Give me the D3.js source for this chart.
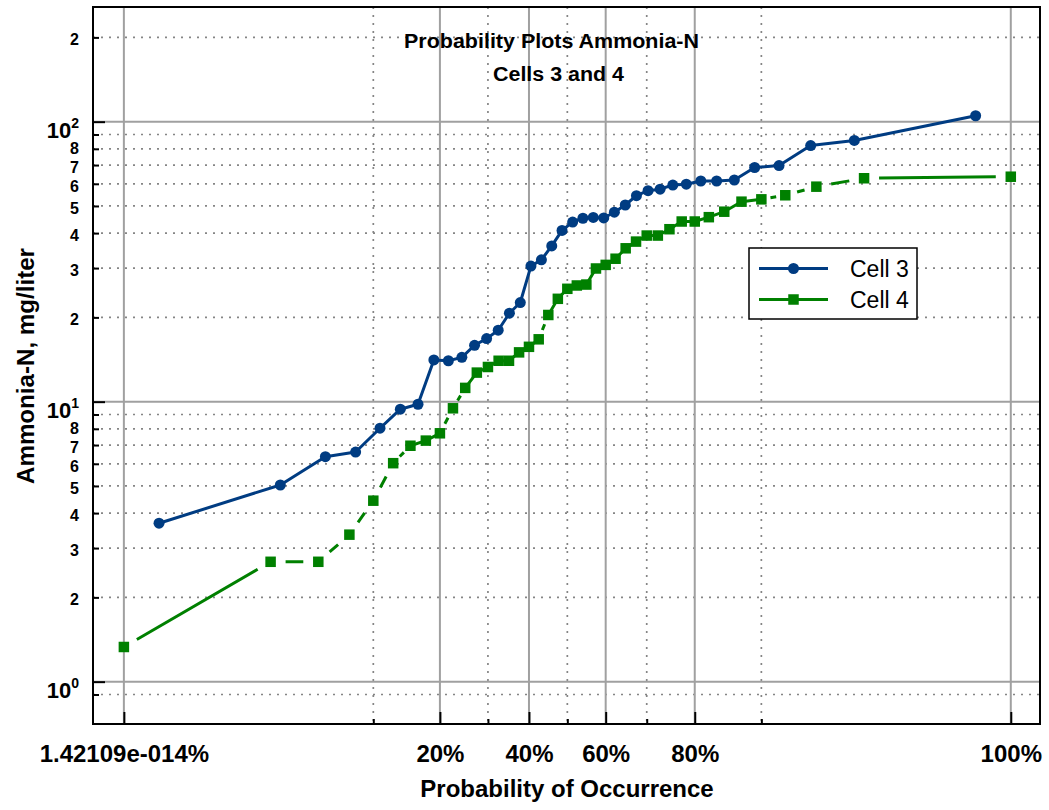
<!DOCTYPE html>
<html><head><meta charset="utf-8">
<script src="https://cdn.jsdelivr.net/npm/d3@7"></script>
<style>body{margin:0;background:#fff} svg{display:block}</style>
</head><body>
<svg id="chart" width="1049" height="810"></svg>
<script>
// ---- data ----
const seriesNames = ["Cell 3", "Cell 4"];
const cell3Prob = [0.35, 2.9, 5.5, 8.1, 10.8, 13.5, 16.2, 18.9, 21.6, 24.3, 27.0, 29.7, 32.4, 35.1, 37.8, 40.5, 43.2, 45.9, 48.6, 51.4, 54.1, 56.8, 59.5, 62.2, 64.9, 67.6, 70.3, 73.0, 75.7, 78.4, 81.1, 83.8, 86.5, 89.2, 91.9, 94.6, 97.1, 99.65];
const cell3Value = [3.68, 5.04, 6.36, 6.61, 8.04, 9.40, 9.79, 14.1, 14.0, 14.4, 15.9, 16.8, 18.0, 20.7, 22.6, 30.5, 32.1, 36.0, 40.9, 43.8, 45.2, 45.5, 45.3, 47.5, 50.4, 54.4, 56.7, 57.4, 59.4, 59.8, 61.4, 61.4, 61.9, 68.6, 69.7, 82.2, 85.7, 105];
const cell4Prob = [0, 2.5, 5, 7.5, 10, 12.5, 15, 17.5, 20, 22.5, 25, 27.5, 30, 32.5, 35, 37.5, 40, 42.5, 45, 47.5, 50, 52.5, 55, 57.5, 60, 62.5, 65, 67.5, 70, 72.5, 75, 77.5, 80, 82.5, 85, 87.5, 90, 92.5, 95, 97.5, 100];
const cell4Value = [1.33, 2.68, 2.68, 3.35, 4.43, 6.03, 6.96, 7.26, 7.71, 9.47, 11.2, 12.7, 13.3, 14.0, 14.0, 15.0, 15.7, 16.7, 20.4, 23.3, 25.3, 26.0, 26.2, 29.9, 30.8, 32.4, 35.3, 37.3, 39.2, 39.2, 41.3, 44.0, 44.0, 45.6, 47.7, 51.8, 52.8, 54.6, 58.6, 62.8, 63.6];

const xMajorTicks = [0, 20, 40, 60, 80, 100];
const xMajorLabels = ["1.42109e-014%", "20%", "40%", "60%", "80%", "100%"];
const xMinorTicks = [10, 30, 50, 70, 90];
const yMajorTicks = [1, 10, 100];
const yMajorExp = ["0", "1", "2"];
const yMinorTicks = [0.9, 2, 3, 4, 5, 6, 7, 8, 9, 20, 30, 40, 50, 60, 70, 80, 90, 200];
const yMinorLabels = ["", "2", "3", "4", "5", "6", "7", "8", "", "2", "3", "4", "5", "6", "7", "8", "", "2"];
const titleLines = ["Probability Plots Ammonia-N", "Cells 3 and 4"];
const xTitle = "Probability of Occurrence";
const yTitle = "Ammonia-N, mg/liter";

// ---- layout / style ----
const L = 93, R = 1040, T = 7, B = 724;
const C3 = "#003C82", C4 = "#008000";
const FONT = "'Liberation Sans', Arial, Helvetica, sans-serif";

function probit(p) {
  const a=[-3.969683028665376e+01,2.209460984245205e+02,-2.759285104469687e+02,1.383577518672690e+02,-3.066479806614716e+01,2.506628277459239e+00];
  const b=[-5.447609879822406e+01,1.615858368580409e+02,-1.556989798598866e+02,6.680131188771972e+01,-1.328068155288572e+01];
  const c=[-7.784894002430293e-03,-3.223964580411365e-01,-2.400758277161838e+00,-2.549732539343734e+00,4.374664141464968e+00,2.938163982698783e+00];
  const d=[7.784695709041462e-03,3.224671290700398e-01,2.445134137142996e+00,3.754408661907416e+00];
  const pl = 0.02425, ph = 1 - pl; let q, r;
  if (p < pl) { q = Math.sqrt(-2*Math.log(p)); return (((((c[0]*q+c[1])*q+c[2])*q+c[3])*q+c[4])*q+c[5])/((((d[0]*q+d[1])*q+d[2])*q+d[3])*q+1); }
  if (p <= ph) { q = p - 0.5; r = q*q; return (((((a[0]*r+a[1])*r+a[2])*r+a[3])*r+a[4])*r+a[5])*q/(((((b[0]*r+b[1])*r+b[2])*r+b[3])*r+b[4])*r+1); }
  q = Math.sqrt(-2*Math.log(1-p)); return -(((((c[0]*q+c[1])*q+c[2])*q+c[3])*q+c[4])*q+c[5])/((((d[0]*q+d[1])*q+d[2])*q+d[3])*q+1);
}
const pMin = 0.0017, pMax = 0.9983;
const toZ = pct => probit(Math.min(pMax, Math.max(pMin, pct / 100)));

const zScale = d3.scaleLinear().domain([-3.133, 3.122]).range([L, R]);
const yScale = d3.scaleLog().domain([0.706, 256.8]).range([B, T]);
const X = pct => zScale(toZ(pct));

const svg = d3.select("#chart");
svg.append("rect").attr("width", 1049).attr("height", 810).attr("fill", "#fff");

// ---- gridlines ----
const grid = svg.append("g");
yMinorTicks.forEach(v => grid.append("line").attr("x1", L).attr("x2", R).attr("y1", yScale(v)).attr("y2", yScale(v))
  .attr("stroke", "#858585").attr("stroke-width", 1.7).attr("stroke-dasharray", "2 6"));
xMinorTicks.forEach(p => grid.append("line").attr("y1", T).attr("y2", B).attr("x1", X(p)).attr("x2", X(p))
  .attr("stroke", "#858585").attr("stroke-width", 1.7).attr("stroke-dasharray", "2 6"));
yMajorTicks.forEach(v => grid.append("line").attr("x1", L).attr("x2", R).attr("y1", yScale(v)).attr("y2", yScale(v))
  .attr("stroke", "#a0a0a0").attr("stroke-width", 2));
xMajorTicks.forEach(p => grid.append("line").attr("y1", T).attr("y2", B).attr("x1", X(p)).attr("x2", X(p))
  .attr("stroke", "#a0a0a0").attr("stroke-width", 2));

// ---- axes (ticks inward) ----
const xAxisMajor = d3.axisBottom(zScale).tickValues(xMajorTicks.map(toZ))
  .tickFormat((d, i) => xMajorLabels[i]).tickSizeInner(-12).tickSizeOuter(0).tickPadding(21);
const gx = svg.append("g").attr("transform", `translate(0,${B})`).call(xAxisMajor);
const xAxisMinor = d3.axisBottom(zScale).tickValues(xMinorTicks.map(toZ)).tickFormat("").tickSizeInner(-5).tickSizeOuter(0);
const gx2 = svg.append("g").attr("transform", `translate(0,${B})`).call(xAxisMinor);
[gx, gx2].forEach(g => { g.select(".domain").remove(); g.selectAll(".tick line").attr("stroke", "#000").attr("stroke-width", 2); });
gx.selectAll(".tick text").attr("font-family", FONT).attr("font-size", 24).attr("font-weight", "bold").attr("fill", "#000");

const yAxisMajor = d3.axisLeft(yScale).tickValues(yMajorTicks).tickFormat("").tickSizeInner(-12).tickSizeOuter(0);
const gy = svg.append("g").attr("transform", `translate(${L},0)`).call(yAxisMajor);
const yAxisMinor = d3.axisLeft(yScale).tickValues(yMinorTicks).tickFormat("").tickSizeInner(-6).tickSizeOuter(0);
const gy2 = svg.append("g").attr("transform", `translate(${L},0)`).call(yAxisMinor);
[gy, gy2].forEach(g => { g.select(".domain").remove(); g.selectAll(".tick line").attr("stroke", "#000").attr("stroke-width", 2); });

// y labels
yMajorTicks.forEach((v, i) => {
  const t = svg.append("text").attr("x", 79).attr("y", yScale(v) + 16).attr("text-anchor", "end")
    .attr("font-family", FONT).attr("font-weight", "bold").attr("fill", "#000");
  t.append("tspan").attr("font-size", 22).text("10");
  t.append("tspan").attr("font-size", 14).attr("dy", -10).text(yMajorExp[i]);
});
yMinorTicks.forEach((v, i) => {
  const lab = yMinorLabels[i];
  if (!lab) return;
  const off = lab === "8" ? 5 : 8;   // keep the tightly packed 8 / 7 / 6 apart
  svg.append("text").attr("x", 79).attr("y", yScale(v) + off).attr("text-anchor", "end")
    .attr("font-family", FONT).attr("font-weight", "bold").attr("font-size", 16).attr("fill", "#000").text(lab);
});

// ---- series ----
const pts3 = cell3Prob.map((p, i) => [X(p), yScale(cell3Value[i])]);
const pts4 = cell4Prob.map((p, i) => [X(p), yScale(cell4Value[i])]);
const line = d3.line();

svg.append("path").attr("d", line(pts3)).attr("fill", "none").attr("stroke", C3).attr("stroke-width", 3).attr("stroke-linejoin", "round");

// Cell 4: each segment drawn with a centred dash (gaps near the markers)
const dash = [0]; let pending = 0;
for (let i = 1; i < pts4.length; i++) {
  const len = Math.hypot(pts4[i][0] - pts4[i-1][0], pts4[i][1] - pts4[i-1][1]);
  const g = len < 22 ? 0 : Math.min(15, 0.38 * len);
  dash.push(pending + g, len - 2 * g); pending = g;
}
dash.push(pending + 1);
svg.append("path").attr("d", line(pts4)).attr("fill", "none").attr("stroke", C4).attr("stroke-width", 3)
  .attr("stroke-dasharray", dash.join(" "));

svg.append("g").selectAll("circle").data(pts3).join("circle")
  .attr("cx", d => d[0]).attr("cy", d => d[1]).attr("r", 5.5).attr("fill", C3);
svg.append("g").selectAll("rect").data(pts4).join("rect")
  .attr("x", d => d[0] - 5.25).attr("y", d => d[1] - 5.25).attr("width", 10.5).attr("height", 10.5).attr("fill", C4);

// ---- frame ----
svg.append("rect").attr("x", L).attr("y", T).attr("width", R - L).attr("height", B - T)
  .attr("fill", "none").attr("stroke", "#000").attr("stroke-width", 2);

// ---- legend ----
const lg = svg.append("g");
lg.append("rect").attr("x", 749).attr("y", 248).attr("width", 168).attr("height", 71)
  .attr("fill", "#fff").attr("stroke", "#000").attr("stroke-width", 1.5);
[[C3, 268.5], [C4, 299.5]].forEach(([col, y], i) => {
  lg.append("line").attr("x1", 759).attr("x2", 828).attr("y1", y).attr("y2", y).attr("stroke", col).attr("stroke-width", 3);
  if (i === 0) lg.append("circle").attr("cx", 793.5).attr("cy", y).attr("r", 5.5).attr("fill", col);
  else lg.append("rect").attr("x", 788.25).attr("y", y - 5.25).attr("width", 10.5).attr("height", 10.5).attr("fill", col);
  lg.append("text").attr("x", 850).attr("y", y + 8).attr("font-family", FONT).attr("font-size", 23)
    .attr("fill", "#000").text(seriesNames[i]);
});

// ---- titles ----
svg.append("text").attr("x", 404).attr("y", 48).attr("font-family", FONT).attr("font-weight", "bold")
  .attr("font-size", 20).attr("textLength", 295).attr("lengthAdjust", "spacingAndGlyphs").text(titleLines[0]);
svg.append("text").attr("x", 493).attr("y", 81).attr("font-family", FONT).attr("font-weight", "bold")
  .attr("font-size", 20).attr("textLength", 131).attr("lengthAdjust", "spacingAndGlyphs").text(titleLines[1]);
svg.append("text").attr("x", 567).attr("y", 797).attr("text-anchor", "middle").attr("font-family", FONT)
  .attr("font-weight", "bold").attr("font-size", 24).text(xTitle);
svg.append("text").attr("transform", "translate(34,366) rotate(-90)").attr("text-anchor", "middle")
  .attr("font-family", FONT).attr("font-weight", "bold").attr("font-size", 24)
  .attr("textLength", 236).attr("lengthAdjust", "spacingAndGlyphs").text(yTitle);
</script>
</body></html>
